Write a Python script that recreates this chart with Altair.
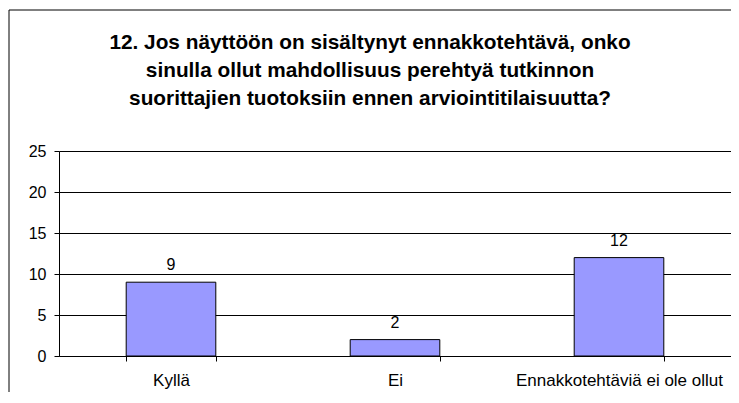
import altair as alt
import pandas as pd

categories = ["Kyllä", "Ei", "Ennakkotehtäviä ei ole ollut"]
values = [9, 2, 12]
y_ticks = [0, 5, 10, 15, 20, 25]
title_lines = [
    "12. Jos näyttöön on sisältynyt ennakkotehtävä, onko",
    "sinulla ollut mahdollisuus perehtyä tutkinnon",
    "suorittajien tuotoksiin ennen arviointitilaisuutta?",
]

df = pd.DataFrame({"cat": categories, "val": values})
FONT = "Liberation Sans"

x_enc = alt.X(
    "cat:N",
    sort=categories,
    title=None,
    scale=alt.Scale(paddingInner=0.6, paddingOuter=0.3),
    axis=alt.Axis(
        labelAngle=0,
        labelFont=FONT,
        labelFontSize=17,
        labelColor="black",
        labelPadding=11,
        labelLimit=400,
        domainColor="black",
        tickColor="black",
        tickSize=5,
        tickBand="extent",
        grid=False,
    ),
)
y_enc = alt.Y(
    "val:Q",
    title=None,
    scale=alt.Scale(domain=[0, 25], nice=False),
    axis=alt.Axis(
        values=y_ticks,
        labelFont=FONT,
        labelFontSize=16,
        labelColor="black",
        labelPadding=8,
        domainColor="black",
        tickColor="black",
        tickSize=5,
        grid=True,
        gridColor="black",
        gridOpacity=1,
    ),
)

bars = alt.Chart(df).mark_bar(
    color="#9999FF", stroke="black", strokeWidth=1
).encode(x=x_enc, y=y_enc)

labels = alt.Chart(df).mark_text(
    font=FONT, fontSize=16, color="black", baseline="alphabetic", dy=-12
).encode(x=alt.X("cat:N", sort=categories), y="val:Q", text="val:Q")

border = alt.Chart(pd.DataFrame({"a": [0]})).mark_rect(
    fillOpacity=0, stroke="black", strokeWidth=1
).encode(
    x=alt.value(-50), x2=alt.value(3000), y=alt.value(-141), y2=alt.value(3000)
)

title_layers = []
for i, line in enumerate(title_lines):
    title_layers.append(
        alt.Chart(pd.DataFrame({"t": [line]})).mark_text(
            font=FONT, fontSize=20.8, fontWeight="bold", color="black",
            align="center", baseline="middle",
        ).encode(x=alt.value(311), y=alt.value(-108 + 28 * i), text="t:N")
    )

chart = alt.layer(border, bars, labels, *title_layers).properties(
    width=672,
    height=205,
    autosize=alt.AutoSizeParams(type="none"),
    padding={"left": 51, "top": 143, "right": 0, "bottom": 36},
).configure_view(stroke="#808080", strokeWidth=1).configure(background="white")

chart.save("out.html", embed_options={"renderer": "svg", "actions": False})
